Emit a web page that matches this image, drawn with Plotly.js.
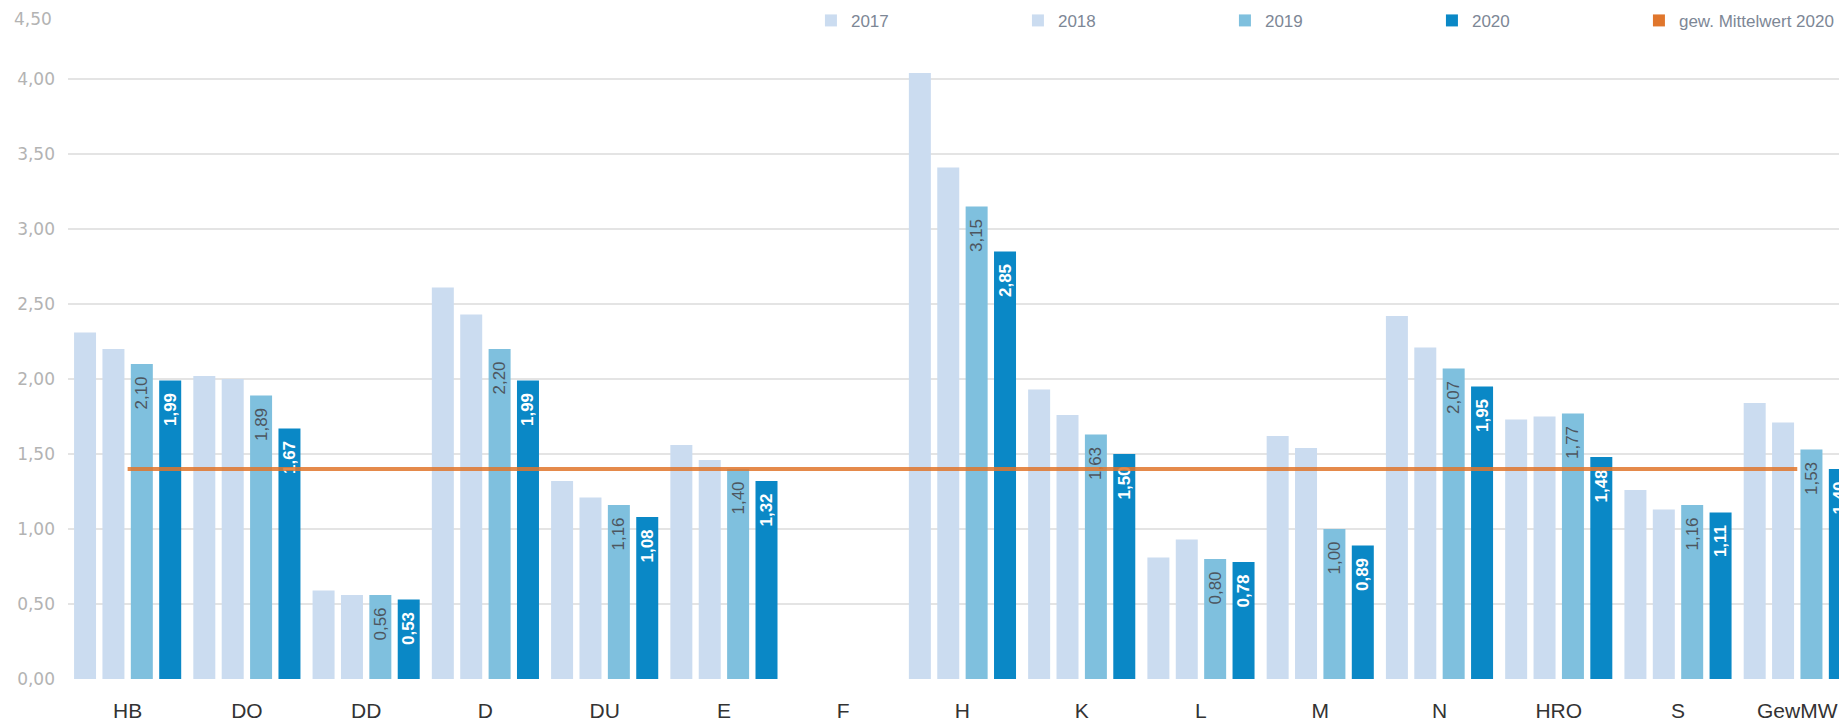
<!DOCTYPE html>
<html>
<head>
<meta charset="utf-8">
<script src="https://cdn.plot.ly/plotly-3.0.1.min.js"></script>
<style>
  html, body { margin: 0; padding: 0; background: #ffffff; }
  #chart { width: 1839px; height: 727px; }
</style>
</head>
<body>
<div id="chart"></div>
<script>
// ---- data ----
const categories = ['HB','DO','DD','D','DU','E','F','H','K','L','M','N','HRO','S','GewMW'];
const values2017 = [2.31, 2.02, 0.59, 2.61, 1.32, 1.56, null, 4.04, 1.93, 0.81, 1.62, 2.42, 1.73, 1.26, 1.84];
const values2018 = [2.20, 2.00, 0.56, 2.43, 1.21, 1.46, null, 3.41, 1.76, 0.93, 1.54, 2.21, 1.75, 1.13, 1.71];
const values2019 = [2.10, 1.89, 0.56, 2.20, 1.16, 1.40, null, 3.15, 1.63, 0.80, 1.00, 2.07, 1.77, 1.16, 1.53];
const values2020 = [1.99, 1.67, 0.53, 1.99, 1.08, 1.32, null, 2.85, 1.50, 0.78, 0.89, 1.95, 1.48, 1.11, 1.40];
const meanLine2020 = [1.40, 1.40, 1.40, 1.40, 1.40, 1.40, 1.40, 1.40, 1.40, 1.40, 1.40, 1.40, 1.40, 1.40, 1.40];
const seriesNames = ['2017', '2018', '2019', '2020', 'gew. Mittelwert 2020'];
const yTickVals = [0, 0.5, 1, 1.5, 2, 2.5, 3, 3.5, 4, 4.5];
const yTickLabels = ['0,00', '0,50', '1,00', '1,50', '2,00', '2,50', '3,00', '3,50', '4,00', '4,50'];

// ---- styles ----
const cLight = '#cbdcf0';
const c2019 = '#7fc0de';
const c2020 = '#0a88c6';
const cMean = 'rgba(224,118,44,0.85)';

function barTrace(name, y, color, group, textOpts) {
  const t = {
    type: 'bar', name: name, x: categories, y: y,
    marker: { color: color },
    offsetgroup: group,
    hoverinfo: 'x+y+name'
  };
  if (textOpts) {
    Object.assign(t, {
      texttemplate: '%{y:.2f}\u00a0\u00a0',
      textposition: 'inside',
      insidetextanchor: 'end',
      textangle: -90,
      constraintext: 'none',
      insidetextfont: textOpts
    });
  } else {
    t.textposition = 'none';
  }
  return t;
}

const traces = [
  barTrace(seriesNames[0], values2017, cLight, 'g2017'),
  barTrace(seriesNames[1], values2018, cLight, 'g2018'),
  barTrace(seriesNames[2], values2019, c2019, 'g2019', { family: 'Arial, Liberation Sans, sans-serif', size: 17, color: '#4d5660' }),
  barTrace(seriesNames[3], values2020, c2020, 'g2020', { family: 'Arial, Liberation Sans, sans-serif', size: 17, color: '#ffffff', weight: 'bold' }),
  {
    type: 'scatter', mode: 'lines', name: seriesNames[4],
    x: categories, y: meanLine2020,
    line: { color: cMean, width: 4 },
    showlegend: false, hoverinfo: 'y+name'
  },
  {
    // legend entry for the mean line (orange square)
    type: 'bar', name: seriesNames[4], x: categories, y: categories.map(() => null),
    marker: { color: '#e0762c' }, offsetgroup: 'g2017', textposition: 'none'
  }
];

const layout = {
  width: 1839, height: 727,
  margin: { l: 68, r: 0, t: 4, b: 48, autoexpand: false },
  paper_bgcolor: '#ffffff', plot_bgcolor: '#ffffff',
  separators: ',.',
  barmode: 'group',
  bargap: 0.048,
  bargroupgap: 0.225,
  font: { family: 'Arial, Liberation Sans, sans-serif', color: '#333333' },
  xaxis: {
    type: 'category',
    range: [-0.5, 14.35],
    showgrid: false, zeroline: false, showline: false,
    ticks: '',
    tickfont: { size: 21, color: '#333333' },
    ticklabelstandoff: 17,
    fixedrange: true
  },
  yaxis: {
    range: [0, 4.5],
    tickvals: yTickVals,
    ticktext: yTickLabels.map((t, i) => i === yTickLabels.length - 1 ? '' : t),
    showgrid: true, gridcolor: '#e4e4e4', gridwidth: 2,
    zeroline: false, showline: false, ticks: '',
    tickfont: { family: 'DejaVu Sans, sans-serif', size: 17, color: '#b3b3b3' },
    ticklabelstandoff: 12,
    fixedrange: true
  },
  annotations: [{
    xref: 'paper', yref: 'y', x: 0, y: yTickVals[yTickVals.length - 1],
    xanchor: 'right', yanchor: 'middle', xshift: -14, yshift: -15,
    text: yTickLabels[yTickLabels.length - 1], showarrow: false,
    font: { family: 'DejaVu Sans, sans-serif', size: 17, color: '#b3b3b3' }
  }],
  legend: {
    orientation: 'h',
    x: 0.4195, xanchor: 'left',
    y: 0.975, yanchor: 'middle',
    entrywidth: 162, entrywidthmode: 'pixels',
    bgcolor: 'rgba(0,0,0,0)',
    font: { family: 'Arial, Liberation Sans, sans-serif', size: 17, color: '#7d8796' },
    traceorder: 'normal'
  },
  showlegend: true
};

Plotly.newPlot('chart', traces, layout, { displayModeBar: false, staticPlot: true });
</script>
</body>
</html>
